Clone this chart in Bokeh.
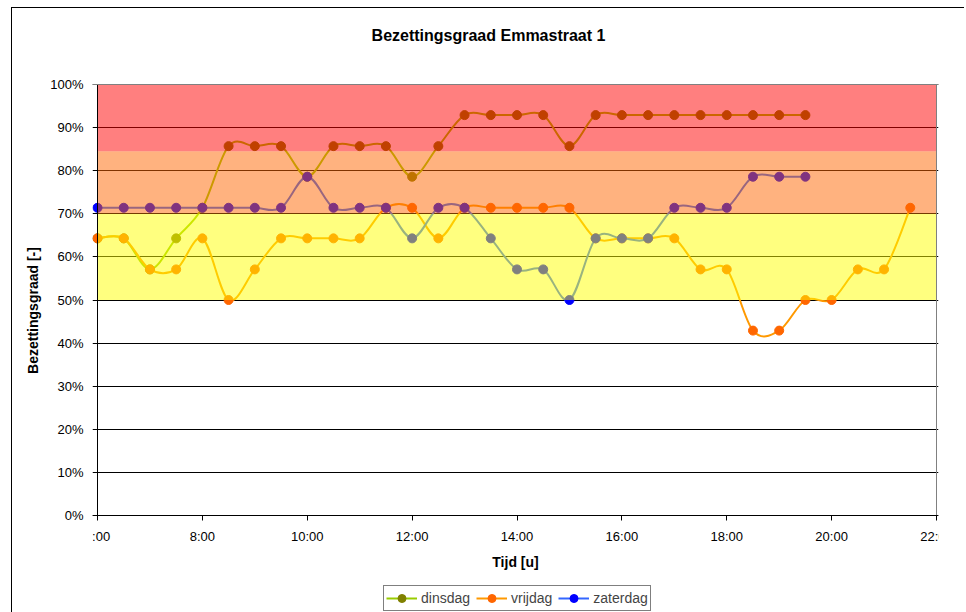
import numpy as np
from bokeh.plotting import figure
from bokeh.models import Range1d, FixedTicker, Legend, LegendItem, Span, ColumnDataSource, Label
from bokeh.embed import file_html
from bokeh.resources import INLINE

# ---------------- data ----------------
tijd = ["6:00", "6:30", "7:00", "7:30", "8:00", "8:30", "9:00", "9:30",
        "10:00", "10:30", "11:00", "11:30", "12:00", "12:30", "13:00", "13:30",
        "14:00", "14:30", "15:00", "15:30", "16:00", "16:30", "17:00", "17:30",
        "18:00", "18:30", "19:00", "19:30", "20:00", "20:30", "21:00", "21:30"]

dinsdag = [64.3, 64.3, 57.1, 64.3, 71.4, 85.7, 85.7, 85.7,
           78.6, 85.7, 85.7, 85.7, 78.6, 85.7, 92.9, 92.9,
           92.9, 92.9, 85.7, 92.9, 92.9, 92.9, 92.9, 92.9,
           92.9, 92.9, 92.9, 92.9]

vrijdag = [64.3, 64.3, 57.1, 57.1, 64.3, 50.0, 57.1, 64.3,
           64.3, 64.3, 64.3, 71.4, 71.4, 64.3, 71.4, 71.4,
           71.4, 71.4, 71.4, 64.3, 64.3, 64.3, 64.3, 57.1,
           57.1, 42.9, 42.9, 50.0, 50.0, 57.1, 57.1, 71.4]

zaterdag = [71.4, 71.4, 71.4, 71.4, 71.4, 71.4, 71.4, 71.4,
            78.6, 71.4, 71.4, 71.4, 64.3, 71.4, 71.4, 64.3,
            57.1, 57.1, 50.0, 64.3, 64.3, 64.3, 71.4, 71.4,
            71.4, 78.6, 78.6, 78.6]

series_names = ["dinsdag", "vrijdag", "zaterdag"]
series_values = [dinsdag, vrijdag, zaterdag]
line_colors = ["#99cc00", "#ff9900", "#3366ff"]
marker_colors = ["#808000", "#ff6600", "#0000ff"]

# occupancy zones (lower, upper bound in %)
zone_lower = [50.0, 70.0, 84.5]
zone_upper = [70.0, 84.5, 100.0]
zone_colors = ["#ffff00", "#ff6600", "#ff0000"]

x_tick_values = [6, 8, 10, 12, 14, 16, 18, 20, 22]
x_tick_labels = ["6:00", "8:00", "10:00", "12:00", "14:00", "16:00", "18:00", "20:00", "22:00"]
y_tick_values = [0.0, 0.1, 0.2, 0.3, 0.4, 0.5, 0.6, 0.7, 0.8, 0.9, 1.0]
y_tick_labels = ["0%", "10%", "20%", "30%", "40%", "50%", "60%", "70%", "80%", "90%", "100%"]

title_text = "Bezettingsgraad Emmastraat 1"
x_title = "Tijd [u]"
y_title = "Bezettingsgraad [-]"

x_min, x_max = 6.0, 22.0
y_min, y_max = 0.0, 1.0

# ---------------- helpers ----------------
def hours(labels):
    out = []
    for s in labels:
        h, m = s.split(":")
        out.append(int(h) + int(m) / 60.0)
    return np.array(out)


def smooth_segments(xs, ys):
    """Cubic Bezier segments (Catmull-Rom style) through the data points."""
    x = np.asarray(xs, dtype=float)
    y = np.asarray(ys, dtype=float)
    xp = np.concatenate([[x[0]], x, [x[-1]]])
    yp = np.concatenate([[y[0]], y, [y[-1]]])
    return dict(
        x0=x[:-1], y0=y[:-1], x1=x[1:], y1=y[1:],
        cx0=x[:-1] + (xp[2:-1] - xp[:-3]) / 6.0,
        cy0=y[:-1] + (yp[2:-1] - yp[:-3]) / 6.0,
        cx1=x[1:] - (xp[3:] - xp[1:-2]) / 6.0,
        cy1=y[1:] - (yp[3:] - yp[1:-2]) / 6.0,
    )

# ---------------- layout (pixels) ----------------
PLOT_W, PLOT_H = 839, 431          # plot area 6:00..22:00, 0..100 %
PAD_L, PAD_R = 5, 2                # frame extends a little left/right of plot area
PAD_T, PAD_B = 76, 97              # frame extends up to the title and down to the legend
PX_H = PLOT_W / (x_max - x_min)    # pixels per hour
PX_U = PLOT_H / (y_max - y_min)    # pixels per unit fraction
FONT = "Liberation Sans"

x_range = Range1d(x_min - PAD_L / PX_H, x_max + PAD_R / PX_H)
y_range = Range1d(y_min - PAD_B / PX_U, y_max + PAD_T / PX_U)

p = figure(frame_width=PLOT_W + PAD_L + PAD_R, frame_height=PLOT_H + PAD_T + PAD_B,
           min_border_left=80, min_border_right=26, min_border_top=0, min_border_bottom=0,
           x_range=x_range, y_range=y_range,
           output_backend="svg", toolbar_location=None,
           background_fill_color="white", border_fill_color="white")
p.margin = (7, 0, 0, 11)
p.styles = {"border-left": "1px solid black", "border-top": "1px solid black"}
p.title.visible = False
p.outline_line_color = None

# axes
p.xaxis.ticker = FixedTicker(ticks=x_tick_values)
p.xaxis.major_label_overrides = {v: l for v, l in zip(x_tick_values, x_tick_labels)}
p.yaxis.ticker = FixedTicker(ticks=y_tick_values)
p.yaxis.major_label_overrides = {v: l for v, l in zip(y_tick_values, y_tick_labels)}
for ax in (p.xaxis, p.yaxis):
    ax.axis_line_color = "black"
    ax.axis_line_width = 1
    ax.major_tick_line_color = "black"
    ax.minor_tick_line_color = None
    ax.major_label_text_font = FONT
    ax.major_label_text_font_size = "13px"
    ax.major_label_text_color = "black"
    ax.axis_label_text_font = FONT
    ax.axis_label_text_font_style = "bold"
    ax.axis_label_text_font_size = "14px"
    ax.axis_label_text_color = "black"

p.xaxis.fixed_location = y_min
p.xaxis.major_tick_out = 5
p.xaxis.major_tick_in = 0
p.xaxis.major_label_standoff = 8
p.xaxis.axis_label = x_title
p.xaxis.axis_label_standoff = 7

# y axis: the grid stubs left of 6:00 act as tick marks; the axis line is a segment at 6:00
p.yaxis.bounds = (y_min, y_max)
p.yaxis.axis_line_color = None
p.yaxis.major_tick_out = 0
p.yaxis.major_tick_in = 0
p.yaxis.major_label_standoff = 9
p.yaxis.axis_label = y_title
p.yaxis.axis_label_standoff = 6

p.xgrid.visible = False
p.ygrid.grid_line_color = "black"
p.ygrid.grid_line_width = 1
p.ygrid.ticker = FixedTicker(ticks=y_tick_values)

# series
legend_items = []
for name, vals, lc, mc in zip(series_names, series_values, line_colors, marker_colors):
    xs = hours(tijd[:len(vals)])
    ys = np.array(vals) / 100.0
    seg = ColumnDataSource(smooth_segments(xs, ys))
    r_line = p.bezier(x0="x0", y0="y0", x1="x1", y1="y1", cx0="cx0", cy0="cy0",
                      cx1="cx1", cy1="cy1", source=seg, line_color=lc, line_width=2)
    r_mark = p.scatter(xs, ys, marker="circle", size=9, fill_color=mc, line_color=mc)
    legend_items.append(LegendItem(label=name, renderers=[r_line, r_mark]))

# translucent zones drawn over the series (as in the original)
p.quad(left=[x_min] * len(zone_lower), right=[x_max] * len(zone_lower),
       bottom=np.array(zone_lower) / 100.0, top=np.array(zone_upper) / 100.0,
       fill_color=zone_colors, fill_alpha=0.5, line_color=None)

# plot-area border (top gray, right gray) and the value axis line (black)
p.add_layout(Span(location=y_max, dimension="width", line_color="#808080", line_width=1))
p.segment(x0=[x_max], y0=[y_min], x1=[x_max], y1=[y_max], line_color="#808080", line_width=1)
p.segment(x0=[x_min], y0=[y_min], x1=[x_min], y1=[y_max], line_color="black", line_width=1)

# chart title (inside the extended frame, above the plot area)
title_px_x, title_px_above = 391, 49   # centre: px right of 6:00, px above 100 %
p.add_layout(Label(x=x_min + title_px_x / PX_H, y=y_max + title_px_above / PX_U,
                   text=title_text, text_font=FONT, text_font_style="bold",
                   text_font_size="16px", text_align="center", text_baseline="middle",
                   text_color="black"))

legend = Legend(items=legend_items, location=(291, 1), orientation="horizontal",
                border_line_color="black", border_line_width=1, padding=2, spacing=6,
                margin=0, glyph_width=31, glyph_height=20, label_height=20,
                label_standoff=4, label_text_font=FONT, label_text_font_size="14px",
                background_fill_color="white", background_fill_alpha=1.0)
p.add_layout(legend)

open("out.html", "w").write(file_html(p, INLINE))
